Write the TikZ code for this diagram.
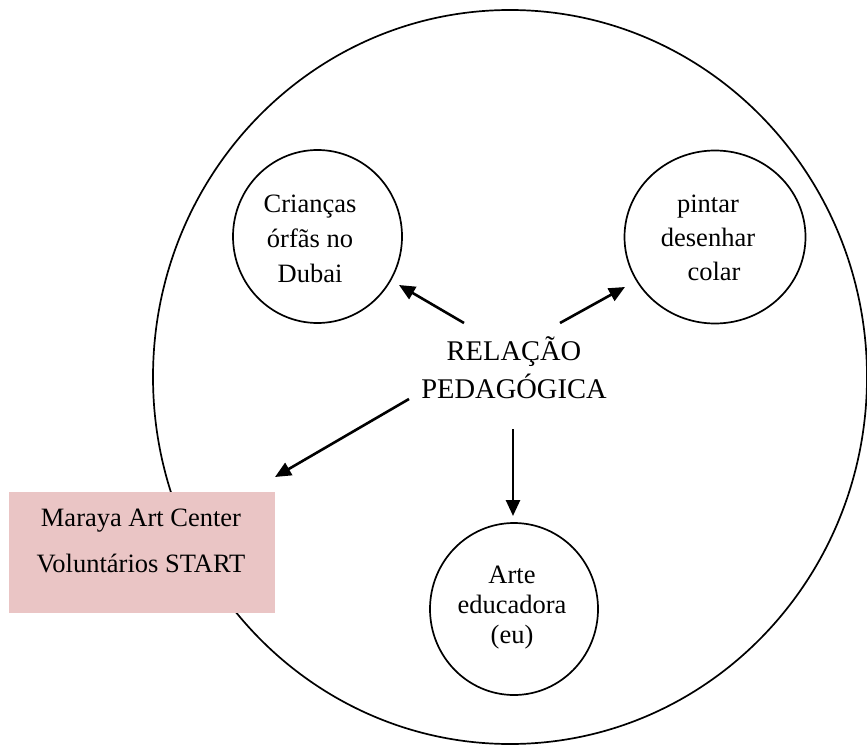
\documentclass[tikz,border=0pt]{standalone}
\usepackage{fontspec}
\setmainfont{Liberation Serif}
\usetikzlibrary{arrows.meta,shapes.geometric}
\definecolor{boxpink}{RGB}{234,197,197}
\begin{document}
\begin{tikzpicture}[x=1pt,y=-1pt,
  ring/.style={draw,ellipse,line width=1.7pt,inner sep=0pt},
  lbl/.style={align=center,inner sep=0pt,anchor=base},
  arr/.style={line width=2.6pt,-{Triangle[length=16pt,width=14pt]}}]
\useasboundingbox (0,0) rectangle (867,746);
% big ellipse
\node[ring,minimum width=714pt,minimum height=734pt] (big) at (510,377) {};
% inner circles
\node[ring,minimum width=169pt,minimum height=173pt] (kids) at (317.5,236.5) {};
\node[ring,minimum width=181pt,minimum height=173pt] (paint) at (715,237) {};
\node[ring,minimum width=168pt,minimum height=172pt] (me) at (514,609) {};
% box
\node[fill=boxpink,minimum width=266pt,minimum height=121pt,inner sep=0pt] (maraya) at (142,552.5) {};
% texts (anchor base = baseline of last line)
\node[lbl,font=\fontsize{26.5}{35}\selectfont] (kidst) at (310,282) {Crianças\\órfãs no\\Dubai};
\node[lbl,font=\fontsize{26.5}{34}\selectfont] (paintt) at (708,280) {pintar\\desenhar\\\hspace*{12pt}colar};
\node[lbl,font=\fontsize{26.5}{30}\selectfont] (met) at (512,643) {Arte\\educadora\\(eu)};
\node[lbl,font=\fontsize{28.5}{38}\selectfont] (rel) at (514,398) {RELAÇÃO\\PEDAGÓGICA};
\node[lbl,font=\fontsize{26.5}{46}\selectfont] (marayat) at (141,572) {Maraya Art Center\\Voluntários START};
% arrow end points
\coordinate (s1) at (464,323); \coordinate (t1) at (399,285);
\coordinate (s2) at (560,323); \coordinate (t2) at (625,287);
\coordinate (s3) at (409,399); \coordinate (t3) at (275,477);
\coordinate (s4) at (513,429); \coordinate (t4) at (513,516);
\draw[arr] (s1) -- (t1);
\draw[arr] (s2) -- (t2);
\draw[arr] (s3) -- (t3);
\draw[arr] (s4) -- (t4);
\end{tikzpicture}
\end{document}
